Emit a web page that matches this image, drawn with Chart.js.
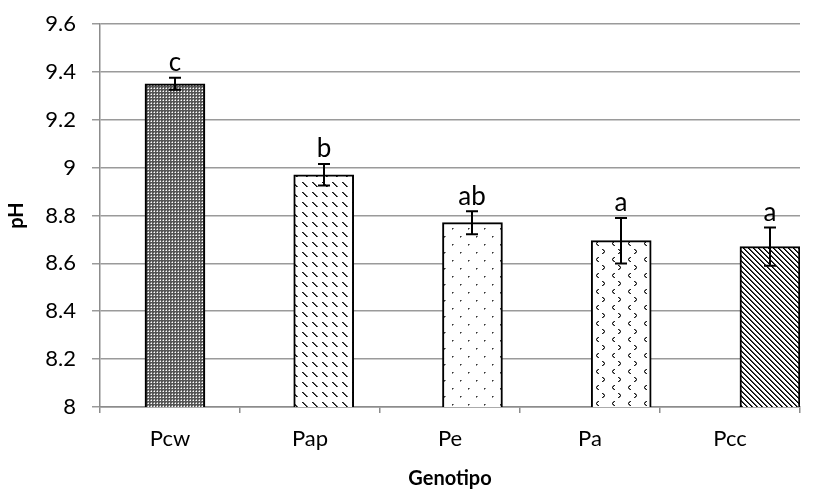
<!DOCTYPE html>
<html>
<head>
<meta charset="utf-8">
<script src="https://cdn.jsdelivr.net/npm/chart.js@4.4.1/dist/chart.umd.min.js"></script>
<style>
  html, body { margin: 0; padding: 0; background: #fff; }
  #wrap { width: 833px; height: 491px; }
</style>
</head>
<body>
<div id="wrap"><canvas id="c" width="833" height="491"></canvas></div>
<script>
// pH by genotype: mean, standard error and significance group letters
const genotypes = ['Pcw', 'Pap', 'Pe', 'Pa', 'Pcc'];
const phMeans = [9.35, 8.97, 8.77, 8.695, 8.67];
const phErrors = [0.025, 0.045, 0.048, 0.095, 0.08];
const groupLetters = ['c', 'b', 'ab', 'a', 'a'];
const yTicks = [8, 8.2, 8.4, 8.6, 8.8, 9, 9.2, 9.4, 9.6];

const FONT = 'Lato, "Open Sans", "DejaVu Sans", sans-serif';

// Hatch fills for each bar
function makeTile(w, h, draw) {
  const t = document.createElement('canvas');
  t.width = w; t.height = h;
  const g = t.getContext('2d');
  g.fillStyle = '#fff';
  g.fillRect(0, 0, w, h);
  draw(g);
  return t;
}
function px(g, x, y, c) { g.fillStyle = c; g.fillRect(x, y, 1, 1); }

const tiles = [
  // fine dark checker
  makeTile(3, 3, g => {
    g.fillStyle = '#555'; g.fillRect(0, 0, 3, 3);
    px(g, 1, 1, '#ffffff');
    px(g, 0, 1, '#a8a8a8'); px(g, 1, 0, '#a8a8a8');
  }),
  // short dashed downward diagonals
  makeTile(10, 10, g => {
    for (let i = 0; i < 5; i++) {
      px(g, 2 + i, 2 + i, '#111');
      px(g, 3 + i, 2 + i, '#555');
    }
  }),
  // sparse dots
  makeTile(16, 16, g => {
    px(g, 4, 4, '#333'); px(g, 5, 4, '#888'); px(g, 4, 5, '#888');
    px(g, 12, 12, '#333'); px(g, 13, 12, '#888'); px(g, 12, 13, '#888');
  }),
  // small chevrons
  makeTile(16, 16, g => {
    const c = '#222', s = '#777';
    px(g, 6, 1, c); px(g, 5, 2, c); px(g, 4, 3, c); px(g, 5, 4, c); px(g, 6, 5, c);
    px(g, 5, 1, s); px(g, 4, 2, s); px(g, 4, 4, s); px(g, 5, 5, s);
    px(g, 10, 9, c); px(g, 11, 10, c); px(g, 12, 11, c); px(g, 11, 12, c); px(g, 10, 13, c);
    px(g, 11, 9, s); px(g, 12, 10, s); px(g, 12, 12, s); px(g, 11, 13, s);
  }),
  // dense downward diagonal stripes
  makeTile(5, 5, g => {
    for (let i = 0; i < 5; i++) {
      px(g, i, i, '#000');
      px(g, (i + 1) % 5, i, '#444');
    }
  })
];

const ctx0 = document.getElementById('c').getContext('2d');
const fills = tiles.map(t => ctx0.createPattern(t, 'repeat'));

// Error bars and group letters drawn on top of the bars
const annotate = {
  id: 'annotate',
  afterDatasetsDraw(chart) {
    const { ctx, scales } = chart;
    const x = scales.xb, y = scales.y;
    ctx.save();
    ctx.strokeStyle = '#000';
    ctx.lineWidth = 2;
    ctx.fillStyle = '#000';
    ctx.font = '26px ' + FONT;
    ctx.textAlign = 'center';
    ctx.textBaseline = 'middle';
    phMeans.forEach((m, i) => {
      const cx = Math.round(x.getPixelForValue(i));
      const yTop = y.getPixelForValue(m + phErrors[i]);
      const yBot = y.getPixelForValue(m - phErrors[i]);
      ctx.beginPath();
      ctx.moveTo(cx, yTop); ctx.lineTo(cx, yBot);
      ctx.moveTo(cx - 6, yTop); ctx.lineTo(cx + 6, yTop);
      ctx.moveTo(cx - 6, yBot); ctx.lineTo(cx + 6, yBot);
      ctx.stroke();
      ctx.fillText(groupLetters[i], cx, yTop - 15);
    });
    ctx.restore();
  }
};

new Chart(ctx0, {
  type: 'bar',
  data: {
    labels: genotypes,
    datasets: [{
      data: phMeans.map((m, i) => ({ x: i, y: m })),
      xAxisID: 'xb',
      backgroundColor: fills,
      borderColor: '#000',
      borderWidth: 2,
      borderSkipped: false,
      barThickness: 60
    }]
  },
  options: {
    responsive: false,
    animation: false,
    devicePixelRatio: 1,
    layout: { padding: { top: 24, right: 33, left: 5, bottom: 0 } },
    plugins: { legend: { display: false }, tooltip: { enabled: false } },
    scales: {
      x: {
        type: 'category',
        offset: true,
        grid: { offset: true, drawOnChartArea: false, drawTicks: true, tickLength: 6, color: '#8c8c8c', lineWidth: 1.5 },
        border: { color: '#8c8c8c', width: 1.5 },
        ticks: { color: '#000', font: { family: FONT, size: 22 }, padding: 13 },
        title: { display: true, text: 'Genotipo', color: '#000', font: { family: FONT, size: 20, weight: 'bold' }, padding: { top: 6, bottom: 0 } },
        afterFit(s) { s.height = 84; }
      },
      // bar placement axis: series sit slightly right of their category, widening toward the end
      xb: {
        type: 'linear',
        display: false,
        offset: false,
        min: -0.504,
        max: 4.202
      },
      y: {
        min: 8, max: 9.6,
        afterBuildTicks(s) { s.ticks = yTicks.map(v => ({ value: v })); },
        grid: { color: '#9a9a9a', lineWidth: 1.5, tickLength: 8 },
        border: { color: '#8c8c8c', width: 1.5 },
        ticks: {
          color: '#000', font: { family: FONT, size: 22 }, padding: 16,
          callback: v => String(Math.round(v * 10) / 10)
        },
        title: { display: true, text: 'pH', color: '#000', font: { family: FONT, size: 20, weight: 'bold' }, padding: { top: 0, bottom: 0 } },
        afterFit(s) { s.width = 95; s.paddingTop = 0; s.paddingBottom = 0; }
      }
    }
  },
  plugins: [annotate]
});
</script>
</body>
</html>
